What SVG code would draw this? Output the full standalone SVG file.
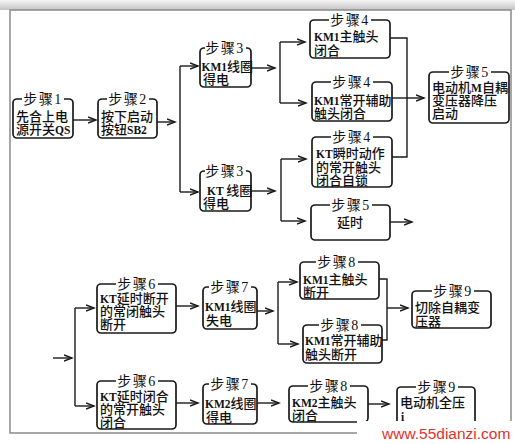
<svg xmlns="http://www.w3.org/2000/svg" width="515" height="444" viewBox="0 0 515 444">
<defs>
<linearGradient id="sh" x1="0" y1="0" x2="0" y2="1"><stop offset="0" stop-color="#f4f4f4"/><stop offset="1" stop-color="#c4c4c4"/></linearGradient>
<marker id="ar" markerUnits="userSpaceOnUse" markerWidth="10" markerHeight="8" refX="8" refY="4" orient="auto"><path d="M0,1 L8,4 L0,7" fill="none" stroke="#1a1a1a" stroke-width="1.4"/></marker>
<style>
.box{fill:#fff;stroke:#1a1a1a;stroke-width:1.7}
.tb{fill:#fff}
.x{font-family:"Liberation Serif","Noto Sans CJK SC",serif;font-size:13px;font-weight:500;fill:#111}
.t{font-size:14px;font-weight:400;text-anchor:middle;letter-spacing:1.5px}
.L{font-size:11.5px;font-weight:700}
.m{text-anchor:middle}
.c{fill:none;stroke:#1a1a1a;stroke-width:1.4}
.a{marker-end:url(#ar)}
</style>
</defs>
<rect x="0" y="0" width="515" height="444" fill="#fff"/>
<rect x="0" y="0" width="515" height="10" fill="url(#sh)"/>
<rect x="10" y="10" width="501" height="423" fill="#fff" stroke="#8a8a8a" stroke-width="1.5"/>

<g id="connectors">
<path class="c a" d="M73,120 H96"/>
<path class="c a" d="M157,122 H175"/>
<path class="c" d="M180,66 V192"/>
<path class="c a" d="M180,66 H198"/>
<path class="c a" d="M180,192 H198"/>
<path class="c a" d="M251,68 H275"/>
<path class="c" d="M280,42 V103"/>
<path class="c a" d="M280,42 H305"/>
<path class="c a" d="M280,103 H306"/>
<path class="c a" d="M251,191 H275"/>
<path class="c" d="M281,159 V221"/>
<path class="c a" d="M281,159 H306"/>
<path class="c a" d="M281,221 H305"/>
<path class="c" d="M390,38 H407 V157 H392"/>
<path class="c a" d="M392,98 H424"/>
<path class="c a" d="M390,222 H412"/>
<path class="c a" d="M53,358 H72"/>
<path class="c" d="M75,308 V406"/>
<path class="c a" d="M75,308 H94"/>
<path class="c a" d="M75,406 H94"/>
<path class="c a" d="M176,306 H198"/>
<path class="c a" d="M176,403 H198"/>
<path class="c a" d="M257,311 H273"/>
<path class="c" d="M278,282 V344"/>
<path class="c a" d="M278,282 H297"/>
<path class="c a" d="M278,344 H298"/>
<path class="c" d="M379,279 H387 V340 H382"/>
<path class="c a" d="M387,308 H408"/>
<path class="c a" d="M257,403 H279"/>
<path class="c a" d="M368,404 H389"/>
</g>

<g id="n1"><rect class="box" x="13" y="99" width="60" height="39" rx="4"/><rect class="tb" x="22" y="92" width="42" height="14"/><text class="x"><tspan class="t" x="43" y="104">步骤1</tspan><tspan x="16" y="121">先合上电</tspan><tspan x="16" y="134">源开关<tspan class="L">QS</tspan></tspan></text></g>
<g id="n2"><rect class="box" x="98" y="99" width="59" height="39" rx="4"/><rect class="tb" x="107" y="92" width="42" height="14"/><text class="x"><tspan class="t" x="128" y="104">步骤2</tspan><tspan x="101" y="121">按下启动</tspan><tspan x="101" y="134">按钮<tspan class="L">SB2</tspan></tspan></text></g>
<g id="n3a"><rect class="box" x="200" y="48" width="51" height="39" rx="4"/><rect class="tb" x="205" y="41" width="41" height="14"/><text class="x"><tspan class="t" x="225" y="53">步骤3</tspan><tspan x="201.5" y="71"><tspan class="L">KM1</tspan>线圈</tspan><tspan x="203" y="84">得电</tspan></text></g>
<g id="n3b"><rect class="box" x="200" y="171" width="51" height="40" rx="4"/><rect class="tb" x="205" y="164" width="41" height="14"/><text class="x"><tspan class="t" x="225" y="176">步骤3</tspan><tspan x="207" y="195"><tspan class="L">KT </tspan>线圈</tspan><tspan x="203" y="208">得电</tspan></text></g>
<g id="n4a"><rect class="box" x="310" y="20" width="80" height="38" rx="4"/><rect class="tb" x="329" y="13" width="42" height="14"/><text class="x"><tspan class="t" x="350" y="25">步骤4</tspan><tspan x="314" y="41"><tspan class="L">KM1</tspan>主触头</tspan><tspan x="314" y="55">闭合</tspan></text></g>
<g id="n4b"><rect class="box" x="312" y="82" width="80" height="39" rx="4"/><rect class="tb" x="331" y="75" width="42" height="14"/><text class="x"><tspan class="t" x="352" y="87">步骤4</tspan><tspan x="314" y="105"><tspan class="L">KM1</tspan>常开辅助</tspan><tspan x="314" y="118">触头闭合</tspan></text></g>
<g id="n4c"><rect class="box" x="312" y="137" width="80" height="50" rx="4"/><rect class="tb" x="331" y="130" width="42" height="14"/><text class="x"><tspan class="t" x="352" y="142">步骤4</tspan><tspan x="316" y="158"><tspan class="L">KT</tspan>瞬时动作</tspan><tspan x="316" y="172">的常开触头</tspan><tspan x="316" y="185">闭合自锁</tspan></text></g>
<g id="n5a"><rect class="box" x="311" y="205" width="79" height="35" rx="4"/><rect class="tb" x="330" y="198" width="42" height="14"/><text class="x"><tspan class="t" x="351" y="210">步骤5</tspan><tspan class="m" x="350" y="227">延时</tspan></text></g>
<g id="n5b"><rect class="box" x="429" y="72" width="80" height="51" rx="4"/><rect class="tb" x="449" y="65" width="42" height="14"/><text class="x"><tspan class="t" x="470" y="77">步骤5</tspan><tspan x="432" y="92">电动机<tspan class="L">M</tspan>自耦</tspan><tspan x="432" y="105">变压器降压</tspan><tspan x="432" y="118">启动</tspan></text></g>
<g id="n6a"><rect class="box" x="97" y="284" width="79" height="49" rx="4"/><rect class="tb" x="116" y="277" width="42" height="14"/><text class="x"><tspan class="t" x="137" y="289">步骤6</tspan><tspan x="100" y="303"><tspan class="L">KT</tspan>延时断开</tspan><tspan x="100" y="316">的常闭触头</tspan><tspan x="100" y="329">断开</tspan></text></g>
<g id="n6b"><rect class="box" x="97" y="381" width="79" height="48" rx="4"/><rect class="tb" x="116" y="374" width="42" height="14"/><text class="x"><tspan class="t" x="137" y="386">步骤6</tspan><tspan x="100" y="401"><tspan class="L">KT</tspan>延时闭合</tspan><tspan x="100" y="414">的常开触头</tspan><tspan x="100" y="427">闭合</tspan></text></g>
<g id="n7a"><rect class="box" x="203" y="287" width="54" height="42" rx="4"/><rect class="tb" x="209" y="280" width="42" height="14"/><text class="x"><tspan class="t" x="230" y="292">步骤7</tspan><tspan x="205" y="311"><tspan class="L">KM1</tspan>线圈</tspan><tspan x="206" y="325">失电</tspan></text></g>
<g id="n7b"><rect class="box" x="203" y="384" width="54" height="40" rx="4"/><rect class="tb" x="209" y="377" width="42" height="14"/><text class="x"><tspan class="t" x="230" y="389">步骤7</tspan><tspan x="205" y="408"><tspan class="L">KM2</tspan>线圈</tspan><tspan x="206" y="422">得电</tspan></text></g>
<g id="n8a"><rect class="box" x="300" y="262" width="79" height="37" rx="4"/><rect class="tb" x="316" y="255" width="42" height="14"/><text class="x"><tspan class="t" x="337" y="267">步骤8</tspan><tspan x="303" y="284"><tspan class="L">KM1</tspan>主触头</tspan><tspan x="303" y="297">断开</tspan></text></g>
<g id="n8b"><rect class="box" x="303" y="325" width="79" height="38" rx="4"/><rect class="tb" x="319" y="318" width="42" height="14"/><text class="x"><tspan class="t" x="340" y="330">步骤8</tspan><tspan x="305" y="345"><tspan class="L">KM1</tspan>常开辅助</tspan><tspan x="305" y="359">触头断开</tspan></text></g>
<g id="n9a"><rect class="box" x="412" y="291" width="79" height="37" rx="4"/><rect class="tb" x="432" y="284" width="42" height="14"/><text class="x"><tspan class="t" x="453" y="296">步骤9</tspan><tspan x="415" y="312">切除自耦变</tspan><tspan x="415" y="326">压器</tspan></text></g>
<g id="n8c"><rect class="box" x="289" y="386" width="79" height="36" rx="4"/><rect class="tb" x="308" y="379" width="42" height="14"/><text class="x"><tspan class="t" x="329" y="391">步骤8</tspan><tspan x="292" y="407"><tspan class="L">KM2</tspan>主触头</tspan><tspan x="292" y="420">闭合</tspan></text></g>
<g id="n9b"><rect class="box" x="397" y="387" width="78" height="44" rx="4"/><rect class="tb" x="416" y="380" width="42" height="14"/><text class="x"><tspan class="t" x="437" y="392">步骤9</tspan><tspan x="400" y="407">电动机全压</tspan><tspan class="L" x="401" y="421">i</tspan></text></g>

<rect x="357" y="421" width="158" height="23" fill="#fff"/>
<text x="382" y="439" font-family="Liberation Sans, sans-serif" font-size="15.5" fill="#e3302b">www.55dianzi.com</text>
</svg>
